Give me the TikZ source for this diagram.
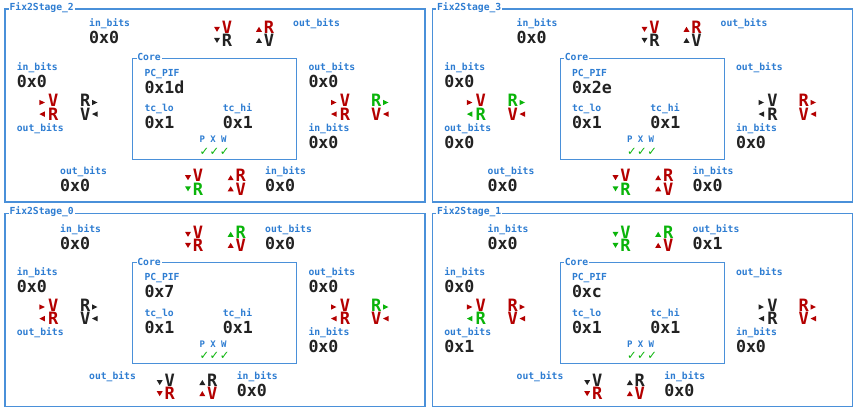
\documentclass[tikz,border=0pt]{standalone}
\usepackage{fontspec}
\setmonofont{DejaVu Sans Mono}
\newfontfamily\chkfont{DejaVu Sans}
\definecolor{lblue}{RGB}{46,125,210}
\definecolor{bblue}{RGB}{74,144,217}
\definecolor{vblack}{RGB}{34,34,34}
\definecolor{sred}{RGB}{180,0,0}
\definecolor{sgreen}{RGB}{10,180,10}
\definecolor{sblack}{RGB}{34,34,34}
\newcounter{nid}
\newcommand\labf{\fontsize{9.7}{11}\selectfont\ttfamily\bfseries}
\newcommand\pxwf{\fontsize{9}{11}\selectfont\ttfamily\bfseries}
\newcommand\valf{\fontsize{16.6}{18}\selectfont\ttfamily\bfseries}
\newcommand\sigf{\fontsize{17}{18}\selectfont\ttfamily\bfseries}
\tikzset{
  lab/.style={anchor=base west, inner sep=0pt, font=\labf, text=lblue},
  pxw/.style={anchor=base west, inner sep=0pt, font=\pxwf, text=lblue},
  chk/.style={anchor=base west, inner sep=0pt, font=\chkfont\fontsize{11.5}{12}\selectfont, text=sgreen},
  val/.style={anchor=base west, inner sep=0pt, font=\valf, text=vblack},
  sig/.style={anchor=base west, inner sep=0pt, font=\sigf},
  frame/.style={draw=bblue, line width=1.1pt},
  ttl/.style={anchor=west, inner xsep=0.8pt, inner ysep=1pt, fill=white, font=\labf, text=lblue},
}
\newcommand\mylab[3]{\stepcounter{nid}\node[lab] (t\arabic{nid}) at (#1,#2) {#3};}
\newcommand\myval[3]{\stepcounter{nid}\node[val] (t\arabic{nid}) at (#1,#2) {#3};}
\newcommand\mysig[4]{\stepcounter{nid}\node[sig,text=#3] (t\arabic{nid}) at (#1,#2) {#4};}
% down triangles left of letters
\newcommand\gdn[6]{%
  \fill[#3] (#1,#2-6.5) -- (#1+6,#2-6.5) -- (#1+3,#2-1.5) -- cycle;
  \mysig{#1+7.7}{#2}{#3}{#4}
  \fill[#5] (#1,#2+4.6) -- (#1+6,#2+4.6) -- (#1+3,#2+9.6) -- cycle;
  \mysig{#1+7.7}{#2+13.4}{#5}{#6}}
% up triangles left of letters
\newcommand\gup[6]{%
  \fill[#3] (#1,#2-1.5) -- (#1+6,#2-1.5) -- (#1+3,#2-6.5) -- cycle;
  \mysig{#1+7.7}{#2}{#3}{#4}
  \fill[#5] (#1,#2+9.6) -- (#1+6,#2+9.6) -- (#1+3,#2+4.6) -- cycle;
  \mysig{#1+7.7}{#2+13.4}{#5}{#6}}
% right/left triangles left of letters
\newcommand\gC[6]{%
  \fill[#3] (#1,#2-6.9) -- (#1+5.5,#2-4.2) -- (#1,#2-1.5) -- cycle;
  \mysig{#1+8.7}{#2}{#3}{#4}
  \fill[#5] (#1+5.5,#2+4.7) -- (#1,#2+7.4) -- (#1+5.5,#2+10.1) -- cycle;
  \mysig{#1+8.7}{#2+13.4}{#5}{#6}}
% letters then right/left triangles
\newcommand\gD[6]{%
  \mysig{#1}{#2}{#3}{#4}
  \fill[#3] (#1+12,#2-6.9) -- (#1+17.5,#2-4.2) -- (#1+12,#2-1.5) -- cycle;
  \mysig{#1}{#2+13.4}{#5}{#6}
  \fill[#5] (#1+17.5,#2+4.7) -- (#1+12,#2+7.4) -- (#1+17.5,#2+10.1) -- cycle;}
\newcommand\panelframe[1]{%
  \draw[frame] (0,0) rectangle (420,193);
  \stepcounter{nid}\node[ttl] (t\arabic{nid}) at (3.6,-1.5) {#1};}
\newcommand\core[1]{%
  \draw[frame] (127.7,49.3) rectangle (291.7,150.3);
  \stepcounter{nid}\node[ttl] (t\arabic{nid}) at (131.4,48.4) {Core};
  \mylab{139.3}{67.2}{PC\_PIF}
  \myval{139.3}{84.3}{#1}
  \mylab{139.3}{102.8}{tc\_lo}
  \myval{139.3}{119.8}{0x1}
  \mylab{217.7}{102.8}{tc\_hi}
  \myval{217.7}{119.8}{0x1}
  \stepcounter{nid}\node[pxw] (t\arabic{nid}) at (194.3,133.8) {P X W};
  \stepcounter{nid}\node[chk] (t\arabic{nid}) at (194.3,146) {✓\kern0.6pt✓\kern0.6pt✓};}
\newcommand\middlepart{%
  \mylab{11.7}{61.5}{in\_bits}
  \myval{11.7}{78.5}{0x0}
  \mylab{11.7}{122.2}{out\_bits}
  \mylab{303.3}{122.2}{in\_bits}
  \myval{303.3}{139.2}{0x0}}
\begin{document}
\begin{tikzpicture}[x=1pt,y=-1pt]
\useasboundingbox[fill=white] (0,0) rectangle (857,412);
% ---------------- Fix2Stage_2 ----------------
\begin{scope}[shift={(5,9)}]
  \panelframe{Fix2Stage\_2}
  \mylab{84}{18}{in\_bits}
  \myval{84}{35}{0x0}
  \gdn{209}{24.3}{sred}{V}{sblack}{R}
  \gup{251}{24.3}{sred}{R}{sblack}{V}
  \mylab{288}{18}{out\_bits}
  \middlepart
  \gC{34.3}{97.7}{sred}{V}{sred}{R}
  \gD{75}{97.7}{sblack}{R}{sblack}{V}
  \core{0x1d}
  \mylab{303.3}{61.5}{out\_bits}
  \myval{303.3}{78.5}{0x0}
  \gC{326}{97.7}{sred}{V}{sred}{R}
  \gD{366}{97.7}{sgreen}{R}{sred}{V}
  \mylab{55}{165.5}{out\_bits}
  \myval{55}{182.5}{0x0}
  \gdn{180}{172.7}{sred}{V}{sgreen}{R}
  \gup{222.7}{172.7}{sred}{R}{sred}{V}
  \mylab{260}{165.5}{in\_bits}
  \myval{260}{182.5}{0x0}
\end{scope}
% ---------------- Fix2Stage_3 ----------------
\begin{scope}[shift={(432.5,9)}]
  \panelframe{Fix2Stage\_3}
  \mylab{84}{18}{in\_bits}
  \myval{84}{35}{0x0}
  \gdn{209}{24.3}{sred}{V}{sblack}{R}
  \gup{251}{24.3}{sred}{R}{sblack}{V}
  \mylab{288}{18}{out\_bits}
  \middlepart
  \myval{11.7}{139.2}{0x0}
  \gC{34.3}{97.7}{sred}{V}{sgreen}{R}
  \gD{75}{97.7}{sgreen}{R}{sred}{V}
  \core{0x2e}
  \mylab{303.3}{61.5}{out\_bits}
  \gC{326}{97.7}{sblack}{V}{sblack}{R}
  \gD{366}{97.7}{sred}{R}{sred}{V}
  \mylab{55}{165.5}{out\_bits}
  \myval{55}{182.5}{0x0}
  \gdn{180}{172.7}{sred}{V}{sgreen}{R}
  \gup{222.7}{172.7}{sred}{R}{sred}{V}
  \mylab{260}{165.5}{in\_bits}
  \myval{260}{182.5}{0x0}
\end{scope}
% ---------------- Fix2Stage_0 ----------------
\begin{scope}[shift={(5,213.5)}]
  \panelframe{Fix2Stage\_0}
  \mylab{55}{18.5}{in\_bits}
  \myval{55}{35.5}{0x0}
  \gdn{180}{24.8}{sred}{V}{sred}{R}
  \gup{222.7}{24.8}{sgreen}{R}{sred}{V}
  \mylab{260}{18.5}{out\_bits}
  \myval{260}{35.5}{0x0}
  \middlepart
  \gC{34.3}{97.7}{sred}{V}{sred}{R}
  \gD{75}{97.7}{sblack}{R}{sblack}{V}
  \core{0x7}
  \mylab{303.3}{61.5}{out\_bits}
  \myval{303.3}{78.5}{0x0}
  \gC{326}{97.7}{sred}{V}{sred}{R}
  \gD{366}{97.7}{sgreen}{R}{sred}{V}
  \mylab{84}{166}{out\_bits}
  \gdn{151.7}{173}{sblack}{V}{sred}{R}
  \gup{194.3}{173}{sblack}{R}{sred}{V}
  \mylab{231.7}{166}{in\_bits}
  \myval{231.7}{183}{0x0}
\end{scope}
% ---------------- Fix2Stage_1 ----------------
\begin{scope}[shift={(432.5,213.5)}]
  \panelframe{Fix2Stage\_1}
  \mylab{55}{18.5}{in\_bits}
  \myval{55}{35.5}{0x0}
  \gdn{180}{24.8}{sgreen}{V}{sgreen}{R}
  \gup{222.7}{24.8}{sgreen}{R}{sred}{V}
  \mylab{260}{18.5}{out\_bits}
  \myval{260}{35.5}{0x1}
  \middlepart
  \myval{11.7}{139.2}{0x1}
  \gC{34.3}{97.7}{sred}{V}{sgreen}{R}
  \gD{75}{97.7}{sred}{R}{sred}{V}
  \core{0xc}
  \mylab{303.3}{61.5}{out\_bits}
  \gC{326}{97.7}{sblack}{V}{sblack}{R}
  \gD{366}{97.7}{sred}{R}{sred}{V}
  \mylab{84}{166}{out\_bits}
  \gdn{151.7}{173}{sblack}{V}{sred}{R}
  \gup{194.3}{173}{sblack}{R}{sred}{V}
  \mylab{231.7}{166}{in\_bits}
  \myval{231.7}{183}{0x0}
\end{scope}
\end{tikzpicture}
\end{document}
